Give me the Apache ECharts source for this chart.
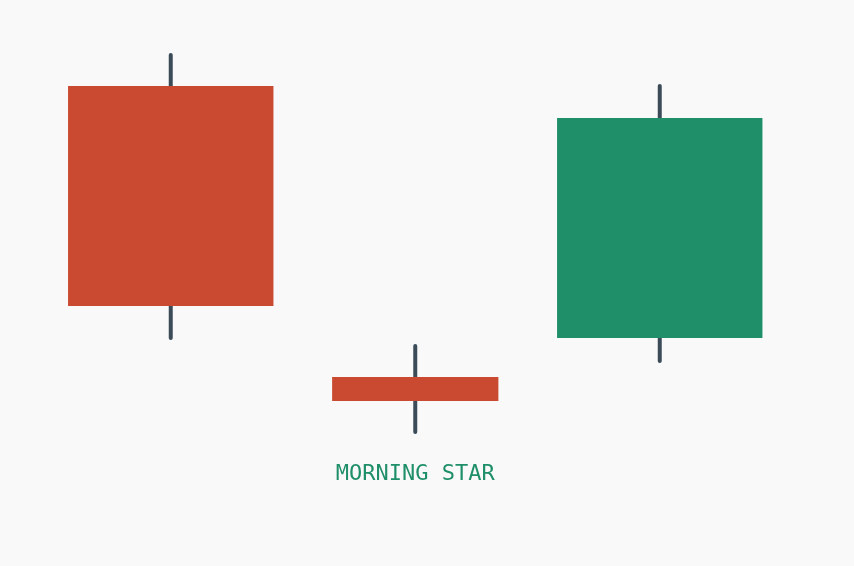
<!DOCTYPE html>
<html>
<head>
<meta charset="utf-8">
<script src="https://cdn.jsdelivr.net/npm/echarts@6/dist/echarts.min.js"></script>
<style>
html,body{margin:0;padding:0;background:#f9f9f9;}
#main{width:854px;height:566px;}
</style>
</head>
<body>
<div id="main"></div>
<script>
// Data
const categories = ['Day 1', 'Day 2', 'Day 3'];
const openValues  = [120, 47.25, 57];
const closeValues = [65, 41.25, 112];
const lowValues   = [57, 33.5, 51.25];
const highValues  = [127.75, 55, 120];
const patternLabel = 'MORNING STAR';

const RED = '#c94a30';
const GREEN = '#1f8f6a';
const WICK = '#3b4b58';

const seriesData = categories.map((c, i) => [i, openValues[i], closeValues[i], lowValues[i], highValues[i]]);

const chart = echarts.init(document.getElementById('main'));
chart.setOption({
  backgroundColor: '#f9f9f9',
  animation: false,
  grid: { left: 48.5, right: 72, top: 6, bottom: 0 },
  xAxis: {
    type: 'category', data: categories, show: false, boundaryGap: true
  },
  yAxis: {
    type: 'value', min: 0, max: 140, show: false
  },
  series: [{
    type: 'custom',
    data: seriesData,
    renderItem: function (params, api) {
      const idx = api.value(0);
      const o = api.value(1), c = api.value(2), l = api.value(3), h = api.value(4);
      const band = api.size([1, 0])[0];
      const ratio = params.dataIndex === 1 ? 0.68 : 0.84;
      const w = band * ratio;
      const pO = api.coord([idx, o]);
      const pC = api.coord([idx, c]);
      const pL = api.coord([idx, l]);
      const pH = api.coord([idx, h]);
      const x = pO[0];
      const top = Math.min(pO[1], pC[1]);
      const bot = Math.max(pO[1], pC[1]);
      const color = c >= o ? GREEN : RED;
      return {
        type: 'group',
        children: [
          { type: 'line', shape: { x1: x, y1: pH[1], x2: x, y2: pL[1] },
            style: { stroke: WICK, lineWidth: 4, lineCap: 'round' } },
          { type: 'rect', shape: { x: x - w / 2, y: top, width: w, height: bot - top },
            style: { fill: color } }
        ]
      };
    }
  }]
});

const labelX = chart.convertToPixel({ xAxisIndex: 0 }, categories[1]);
chart.setOption({
  graphic: [{
    type: 'text',
    x: labelX,
    y: 474,
    style: {
      text: patternLabel,
      fill: GREEN,
      align: 'center',
      verticalAlign: 'middle',
      font: '22px "DejaVu Sans Mono", monospace'
    }
  }]
});
</script>
</body>
</html>
